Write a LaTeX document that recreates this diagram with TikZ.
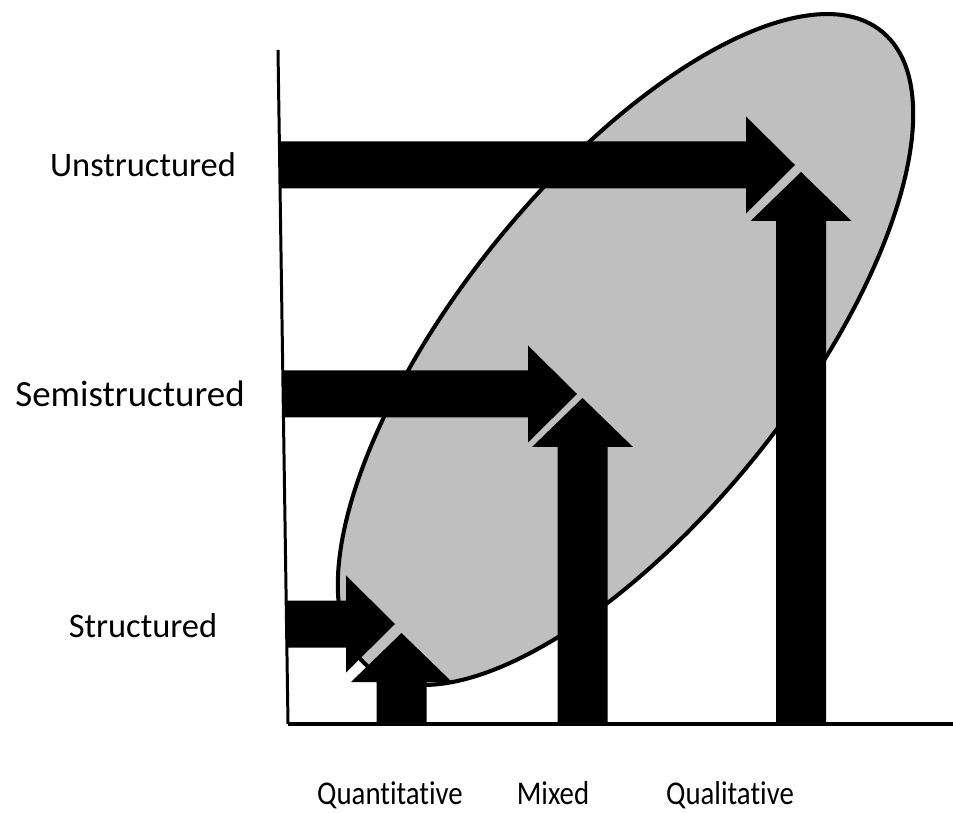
\documentclass[tikz,border=0pt]{standalone}
\usepackage{fontspec}
\setmainfont{Carlito}[Ligatures=NoCommon]
\usetikzlibrary{calc}
\definecolor{ellgray}{RGB}{191,191,191}
% block arrow sizes (picture units)
\def\hshaft{23.5}
\def\hhalf{48.5}
\def\hhead{49}
\def\vshaft{25}
\def\vhalf{50.5}
\def\vhead{49}
% horizontal block arrow: start on the axis #1, tip #2
\newcommand{\hblock}[2]{%
  \fill[block] ($(#1)+(0,-\hshaft)$) -- ($(#2)+(-\hhead,-\hshaft)$) -- ($(#2)+(-\hhead,-\hhalf)$)
    -- (#2) -- ($(#2)+(-\hhead,\hhalf)$) -- ($(#2)+(-\hhead,\hshaft)$) -- ($(#1)+(0,\hshaft)$) -- cycle;}
% vertical block arrow: start on the axis #1, tip #2
\newcommand{\vblock}[2]{%
  \fill[block] ($(#1)+(-\vshaft,0)$) -- ($(#2)+(-\vshaft,-\vhead)$) -- ($(#2)+(-\vhalf,-\vhead)$)
    -- (#2) -- ($(#2)+(\vhalf,-\vhead)$) -- ($(#2)+(\vshaft,-\vhead)$) -- ($(#1)+(\vshaft,0)$) -- cycle;}

\begin{document}
\begin{tikzpicture}[ x=0.02cm, y=0.02cm,
      axis/.style={line width=1.7pt},
      base axis/.style={line width=2.3pt},
      cloud/.style={fill=ellgray, draw=black, line width=2.3pt},
      block/.style={fill=black},
      ylab/.style={font=\fontsize{19.6}{22}\selectfont, anchor=base},
      xlab/.style={font=\fontsize{16.4}{19}\selectfont, anchor=base, yscale=1.15, transform shape}
      ]
      \useasboundingbox (0,0) rectangle (953,812);

      % region
      \coordinate (ellC) at (625.5,462.5);
      \draw[cloud] (ellC) ellipse [x radius=408.5, y radius=168.4, rotate=51.2];

      % arrows
      \coordinate (unsStart) at (279,647);
      \coordinate (unsTip)   at (795,647);
      \coordinate (semiStart) at (282,418);
      \coordinate (semiTip)   at (577,418);
      \coordinate (strStart) at (287,188);
      \coordinate (strTip)   at (395,188);
      \hblock{unsStart}{unsTip}
      \hblock{semiStart}{semiTip}
      \hblock{strStart}{strTip}

      \coordinate (quanStart) at (401.5,88);
      \coordinate (quanTip)   at (401.5,179);
      \coordinate (mixStart) at (582.5,88);
      \coordinate (mixTip)   at (582.5,414);
      \coordinate (qualStart) at (801,88);
      \coordinate (qualTip)   at (801,640);
      \vblock{quanStart}{quanTip}
      \vblock{mixStart}{mixTip}
      \vblock{qualStart}{qualTip}

      % axes
      \coordinate (top) at (278,762);
      \coordinate (O) at (288,88);
      \coordinate (right) at (953,88);
      \draw[axis] (top) -- (O);
      \draw[base axis] (O) -- (right);

      % labels
      \node[ylab] (uns) at (143,635) {Unstructured};
      \node[ylab, font=\fontsize{21}{24}\selectfont] (semi) at (130,405) {Semistructured};
      \node[ylab] (str) at (143,175) {Structured};
      \node[xlab] (quan) at (390,8) {Quantitative};
      \node[xlab] (mix) at (553,8) {Mixed};
      \node[xlab] (qual) at (730,8) {Qualitative};
    \end{tikzpicture}
\end{document}
